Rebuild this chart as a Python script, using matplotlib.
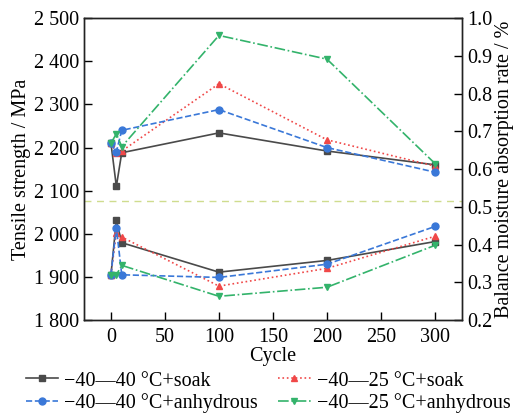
import matplotlib
matplotlib.use("Agg")
from matplotlib import pyplot as plt
from matplotlib import ticker as tick

plt.rcParams['font.family'] = ['Liberation Serif', 'DejaVu Serif']
plt.rcParams['font.size'] = 14.5

cycles = [0, 5, 10, 100, 200, 300]

# tensile strength / MPa (left axis)
ts_40_soak = [2210, 2110, 2188, 2234, 2192, 2160]
ts_25_soak = [2210, 2188, 2192, 2348, 2218, 2157]
ts_40_dry = [2210, 2190, 2240, 2288, 2200, 2143]
ts_25_dry = [2210, 2232, 2202, 2460, 2405, 2163]

# balance moisture absorption rate / % (right axis)
mr_40_soak = [0.32, 0.464, 0.405, 0.327, 0.358, 0.408]
mr_25_soak = [0.32, 0.432, 0.42, 0.29, 0.337, 0.422]
mr_40_dry = [0.32, 0.445, 0.32, 0.313, 0.348, 0.448]
mr_25_dry = [0.32, 0.32, 0.345, 0.263, 0.287, 0.398]

labels = ['\u221240\u201440 \u00b0C+soak', '\u221240\u201425 \u00b0C+soak',
          '\u221240\u201440 \u00b0C+anhydrous', '\u221240\u201425 \u00b0C+anhydrous']
colors = ['#4a4a4a', '#f04848', '#3a78d8', '#33b36b']
styles = ['-', ':', '--', '-.']
markers = ['s', '^', 'o', 'v']

fig = plt.figure(figsize=(5.15, 4.13), dpi=100)
ax = fig.add_axes([0.163, 0.225, 0.734, 0.731])
ax2 = ax.twinx()

ts = [ts_40_soak, ts_25_soak, ts_40_dry, ts_25_dry]
mr = [mr_40_soak, mr_25_soak, mr_40_dry, mr_25_dry]
handles = []
for i in range(4):
    h, = ax.plot(cycles, ts[i], linestyle=styles[i], color=colors[i], marker=markers[i],
                 markersize=5, linewidth=1.2, label=labels[i])
    ax2.plot(cycles, mr[i], linestyle=styles[i], color=colors[i], marker=markers[i],
             markersize=5, linewidth=1.2)
    handles.append(h)

ax.axhline(2077, color='#cfdc8e', linestyle=(0, (5, 4)), linewidth=1)

ax.set_xlim(-25, 325)
ax.set_ylim(1800, 2500)
ax2.set_ylim(0.2, 1.0)
ax.xaxis.set_major_locator(tick.MultipleLocator(50))
ax.yaxis.set_major_locator(tick.MultipleLocator(100))
ax2.yaxis.set_major_locator(tick.MultipleLocator(0.1))
ax.yaxis.set_major_formatter(tick.FuncFormatter(lambda v, p: '%d %03d' % (v // 1000, v % 1000)))
ax2.yaxis.set_major_formatter(tick.FormatStrFormatter('%.1f'))
ax.tick_params(direction='in', length=6, width=1, top=False)
ax.tick_params(axis='x', pad=6)
ax2.tick_params(direction='in', length=6, width=1)
for a in (ax, ax2):
    for s in a.spines.values():
        s.set_linewidth(1)
        s.set_color('#222222')

ax.set_xlabel('Cycle', labelpad=0)
ax.set_ylabel('Tensile strength / MPa', labelpad=2)
ax2.set_ylabel('Balance moisture absorption rate / %', labelpad=2)

order = [0, 2, 1, 3]
fig.legend([handles[k] for k in order], [labels[k] for k in order], ncol=2,
           loc='lower center', bbox_to_anchor=(0.521, -0.045), frameon=False,
           handlelength=1.6, handletextpad=0.3, columnspacing=1.0, labelspacing=0.15)

fig.savefig('out.png', dpi=100)
